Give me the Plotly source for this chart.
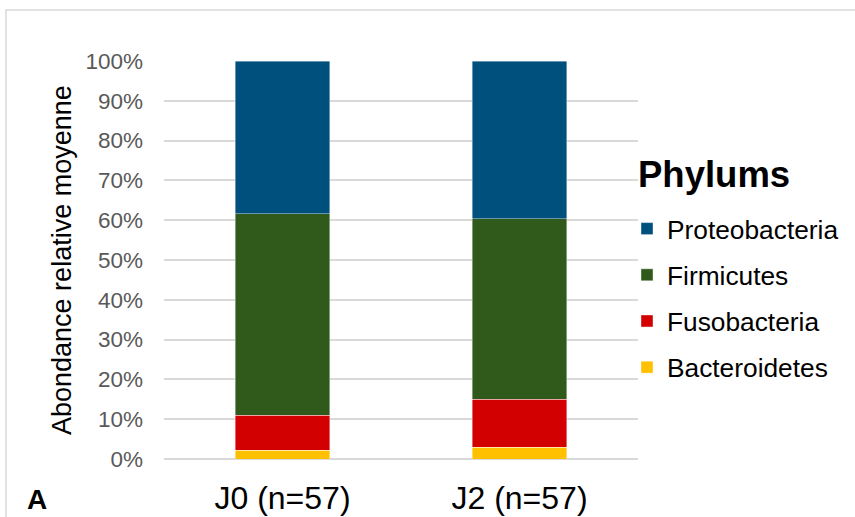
import plotly.graph_objects as go

categories = ["J0 (n=57)", "J2 (n=57)"]
bacteroidetes = [0.022, 0.029]
fusobacteria = [0.088, 0.121]
firmicutes = [0.506, 0.454]
proteobacteria = [0.384, 0.396]

series = [
    ("Bacteroidetes", bacteroidetes, "#FFC000"),
    ("Fusobacteria", fusobacteria, "#D20000"),
    ("Firmicutes", firmicutes, "#2F5A1B"),
    ("Proteobacteria", proteobacteria, "#00507E"),
]

W, H = 855, 517
L, R, T, B = 164, 217, 61, 58
PW, PH = W - L - R, H - T - B
FONT = "Liberation Sans, Arial, sans-serif"

def px(x):
    return (x - L) / PW

def py(y):
    return (H - B - y) / PH

fig = go.Figure()
for i, (name, vals, col) in enumerate(series):
    fig.add_trace(go.Bar(
        x=categories, y=vals, name=name, legendgroup=name,
        legendrank=1000 - i,
        marker=dict(color=col, line=dict(color="rgba(255,255,255,0.5)", width=0.8)),
        width=0.4,
    ))

fig.update_layout(
    width=W, height=H,
    margin=dict(l=L, r=R, t=T, b=B, autoexpand=False),
    barmode="stack",
    plot_bgcolor="white", paper_bgcolor="white",
    font=dict(family=FONT, color="#595959"),
    showlegend=True,
    legend=dict(
        traceorder="grouped", tracegroupgap=9,
        x=px(627), xanchor="left",
        y=py(205), yanchor="top",
        font=dict(size=26.3, color="#000000"),
        itemwidth=30,
        bgcolor="rgba(0,0,0,0)",
    ),
    xaxis=dict(
        showgrid=False, showline=False, ticks="",
        tickfont=dict(size=32, color="#000000"),
        ticklabelstandoff=17,
    ),
    yaxis=dict(
        range=[0, 1], dtick=0.1, tickformat=".0%",
        showgrid=True, gridcolor="#D9D9D9", gridwidth=1.5,
        zeroline=True, zerolinecolor="#D9D9D9", zerolinewidth=1.5,
        showline=False, ticks="",
        tickfont=dict(size=22.5, color="#595959"),
        ticklabelstandoff=20,
    ),
    shapes=[dict(
        type="rect", xref="paper", yref="paper",
        x0=px(6), x1=px(W + 10),
        y0=py(H + 10), y1=py(10),
        line=dict(color="#D9D9D9", width=1.5), layer="below",
    )],
    annotations=[
        dict(text="<b>Phylums</b>", xref="paper", yref="paper",
             x=px(636), xanchor="left",
             y=py(174), yanchor="middle",
             showarrow=False, font=dict(size=36.5, color="#000000", family=FONT)),
        dict(text="Abondance relative moyenne", xref="paper", yref="paper",
             x=px(62), xanchor="center",
             y=0.5, yanchor="middle", textangle=-90,
             showarrow=False, font=dict(size=27, color="#000000", family=FONT)),
        dict(text="<b>A</b>", xref="paper", yref="paper",
             x=px(25), xanchor="left",
             y=py(499), yanchor="middle",
             showarrow=False, font=dict(size=28, color="#000000", family=FONT)),
    ],
)

fig.write_html("out.html", config={"displayModeBar": False},
               post_script="document.body.style.margin='0';document.body.style.padding='0';")
